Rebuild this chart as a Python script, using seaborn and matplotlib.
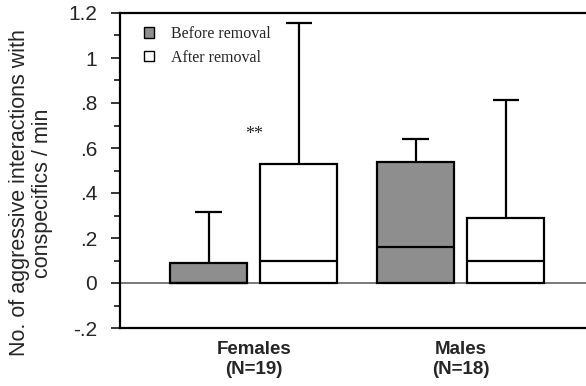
import matplotlib
matplotlib.use("Agg")
import matplotlib.pyplot as plt
import seaborn as sns
import pandas as pd
from matplotlib.ticker import MultipleLocator, FixedLocator, FixedFormatter

# Aggressive interactions with conspecifics per minute (box summaries)
groups = ["Females", "Males"]
group_labels = ["Females\n(N=19)", "Males\n(N=18)"]
phases = ["Before removal", "After removal"]
# upper quartile, median and upper whisker for each group, per phase
q3_before = [0.09, 0.54]
q3_after = [0.53, 0.29]
median_before = [0.0, 0.16]
median_after = [0.10, 0.10]
whisker_before = [0.317, 0.64]
whisker_after = [1.155, 0.815]
signif_marks = ["**", ""]

ytick_values = [-0.2, 0, 0.2, 0.4, 0.6, 0.8, 1.0, 1.2]
ytick_labels = ["-.2", "0", ".2", ".4", ".6", ".8", "1", "1.2"]

sns.set_style("ticks")
plt.rcParams["font.family"] = ["Liberation Sans", "DejaVu Sans"]

df = pd.DataFrame({
    "group": groups * 2,
    "phase": [phases[0]] * 2 + [phases[1]] * 2,
    "q3": q3_before + q3_after,
    "median": median_before + median_after,
    "whisker": whisker_before + whisker_after,
})

fig = plt.figure(figsize=(5.86, 3.86), dpi=100)
ax = fig.add_axes([120 / 586, 1 - 328 / 386, 1 - 120 / 586, (328 - 13) / 386])

ax.axhline(0, color="#555555", lw=1.1, zorder=0.5)

sns.barplot(data=df, x="group", y="q3", hue="phase", order=groups,
            hue_order=phases,
            palette={phases[0]: "#8e8e8e", phases[1]: "white"},
            edgecolor="black", linewidth=1.6, width=0.87, gap=0.145,
            errorbar=None, ax=ax, zorder=2)

lw = 1.6
cap_half = 0.065
for hi, phase in enumerate(phases):
    container = ax.containers[hi]
    for gi, grp in enumerate(groups):
        row = df[(df["group"] == grp) & (df["phase"] == phase)].iloc[0]
        bar = container[gi]
        x0 = bar.get_x()
        x1 = x0 + bar.get_width()
        xc = (x0 + x1) / 2
        ax.hlines(row["median"], x0, x1, color="black", lw=lw, zorder=3)
        ax.vlines(xc, row["q3"], row["whisker"], color="black", lw=lw, zorder=1.5)
        ax.hlines(row["whisker"], xc - cap_half, xc + cap_half, color="black", lw=lw, zorder=3)

for gi, mark in enumerate(signif_marks):
    if mark:
        ax.text(gi, 0.66, mark, ha="center", va="center", fontsize=13,
                family="Liberation Serif")

ax.set_xlim(-0.647, 1.604)
ax.set_ylim(-0.2, 1.2)
ax.yaxis.set_major_locator(FixedLocator(ytick_values))
ax.yaxis.set_major_formatter(FixedFormatter(ytick_labels))
ax.yaxis.set_minor_locator(MultipleLocator(0.1))
ax.tick_params(axis="y", which="major", length=6.5, width=1.3, labelsize=15,
               pad=10, direction="out")
ax.tick_params(axis="y", which="minor", length=4.3, width=1.3, direction="out")
ax.set_xticks(range(len(groups)))
ax.set_xticklabels(group_labels, fontweight="bold", fontsize=13.5,
                   linespacing=1.2)
ax.tick_params(axis="x", length=0, pad=9.5)
ax.set_xlabel("")
ax.set_ylabel("")

for side in ["left", "top", "bottom"]:
    ax.spines[side].set_visible(True)
    ax.spines[side].set_linewidth(1.6)
    ax.spines[side].set_color("black")
ax.spines["right"].set_visible(False)

fig.text(31 / 586, 0.5, "No. of aggressive interactions with\nconspecifics / min",
         rotation=90, ha="center", va="center", fontsize=15.5,
         multialignment="center", linespacing=1.1)

handles, labels = ax.get_legend_handles_labels()
for h in handles:
    h.set_linewidth(1.0)
leg = ax.legend(handles, labels, loc="upper left",
                bbox_to_anchor=(0.037, 0.978), frameon=False,
                prop={"family": "Liberation Serif", "size": 11.5},
                handlelength=0.65, handleheight=0.65, handletextpad=1.05,
                labelspacing=0.45, borderaxespad=0)

fig.savefig("out.png", dpi=100)
